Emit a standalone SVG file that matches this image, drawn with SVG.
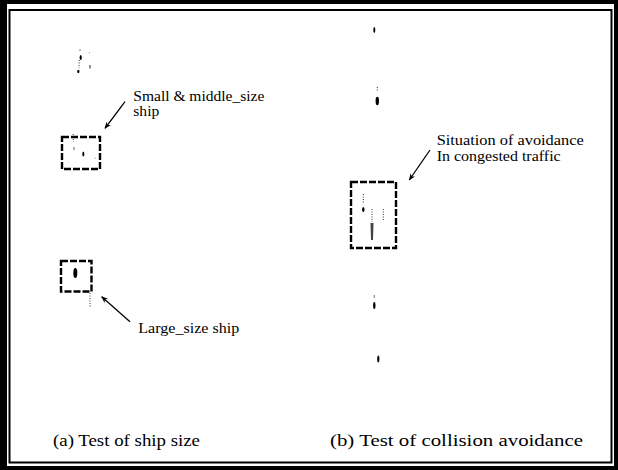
<svg xmlns="http://www.w3.org/2000/svg" width="618" height="470" viewBox="0 0 618 470">
<style>
.lbl{font-family:"Liberation Serif","Times New Roman",serif;font-size:14px;fill:#000}
.cap{font-family:"Liberation Serif","Times New Roman",serif;font-size:16px;fill:#000}
.box{fill:none;stroke:#000;stroke-width:2.4;stroke-dasharray:7 2}
.arr{fill:none;stroke:#000;stroke-width:1.3;marker-end:url(#ah)}
.dot{fill:none;stroke:#333;stroke-width:1;stroke-dasharray:1 1.5}
.blob{fill:#000}
</style>
<defs>
<marker id="ah" viewBox="0 0 10 10" refX="9" refY="5" markerWidth="7" markerHeight="7" orient="auto" markerUnits="userSpaceOnUse">
<path d="M0,1 L10,5 L0,9 L3,5 z" fill="#000"/>
</marker>
</defs>
<rect width="618" height="470" fill="#fff"/>
<g id="frame">
<path d="M0,0 H618 V470 H0 Z M7,4 V466 H614 V4 Z" fill="#000" fill-rule="evenodd"/>
<rect x="9.5" y="10" width="602" height="452.5" fill="none" stroke="#000" stroke-width="2"/>
</g>
<g id="ships">
<circle cx="80" cy="50" r="0.6" class="blob"/>
<ellipse cx="80.7" cy="57.5" rx="1.1" ry="2.6" class="blob"/>
<line x1="79.3" y1="60" x2="79" y2="68" class="dot"/>
<ellipse cx="78.3" cy="71.5" rx="1.1" ry="1.8" class="blob"/>
<line x1="90" y1="65" x2="90" y2="68.5" stroke="#222" stroke-width="1"/>
<circle cx="89.3" cy="52.7" r="0.5" fill="#666"/>
<line x1="73.3" y1="134" x2="73.3" y2="142" class="dot"/>
<line x1="74" y1="147" x2="74" y2="150" stroke="#333" stroke-width="0.8"/>
<ellipse cx="83.3" cy="154" rx="1" ry="2.6" class="blob"/>
<circle cx="95" cy="158" r="0.5" fill="#555"/>
<ellipse cx="75.3" cy="273" rx="2" ry="5" class="blob"/>
<line x1="90" y1="293" x2="90" y2="308" class="dot"/>
<ellipse cx="374.3" cy="30" rx="1" ry="3" class="blob"/>
<line x1="377.3" y1="87" x2="377.3" y2="92" class="dot"/>
<ellipse cx="377.3" cy="101" rx="1.7" ry="4.2" class="blob"/>
<line x1="363.3" y1="194" x2="363.3" y2="203" class="dot"/>
<ellipse cx="363.3" cy="209.5" rx="1.2" ry="2.5" class="blob"/>
<line x1="372" y1="209" x2="372" y2="222" class="dot"/>
<path d="M370.5,223 L373.5,223 L373,240 L371,240 Z" fill="#444"/>
<line x1="383.3" y1="209" x2="383.3" y2="221" class="dot"/>
<line x1="374.3" y1="295" x2="374.3" y2="298" stroke="#555" stroke-width="0.8"/>
<ellipse cx="374.3" cy="305.5" rx="1.2" ry="3.5" class="blob"/>
<ellipse cx="378.3" cy="359" rx="1.1" ry="3.5" class="blob"/>
</g>
<g id="small-middle">
<rect x="62" y="137" width="38" height="32" class="box"/>
<text class="lbl" x="133.3" y="101" textLength="131" lengthAdjust="spacingAndGlyphs">Small &amp; middle_size</text>
<text class="lbl" x="133.3" y="116" textLength="26" lengthAdjust="spacingAndGlyphs">ship</text>
</g>
<g id="large">
<rect x="61" y="261" width="30.5" height="30.5" class="box"/>
<text class="lbl" x="138.3" y="332.7" textLength="101" lengthAdjust="spacingAndGlyphs">Large_size ship</text>
</g>
<g id="avoidance">
<rect x="351" y="182" width="45" height="66" class="box"/>
<text class="lbl" x="436.7" y="145" textLength="147" lengthAdjust="spacingAndGlyphs">Situation of avoidance</text>
<text class="lbl" x="436.7" y="161" textLength="124" lengthAdjust="spacingAndGlyphs">In congested traffic</text>
</g>
<g id="connectors">
<line x1="125" y1="101.7" x2="105" y2="128.3" class="arr"/>
<line x1="130" y1="321.7" x2="101.7" y2="296.7" class="arr"/>
<line x1="430" y1="150" x2="409.3" y2="180" class="arr"/>
</g>
<g id="captions">
<text class="cap" x="53" y="446" textLength="147" lengthAdjust="spacingAndGlyphs">(a) Test of ship size</text>
<text class="cap" x="330" y="446" textLength="253" lengthAdjust="spacingAndGlyphs">(b) Test of collision avoidance</text>
</g>
</svg>
